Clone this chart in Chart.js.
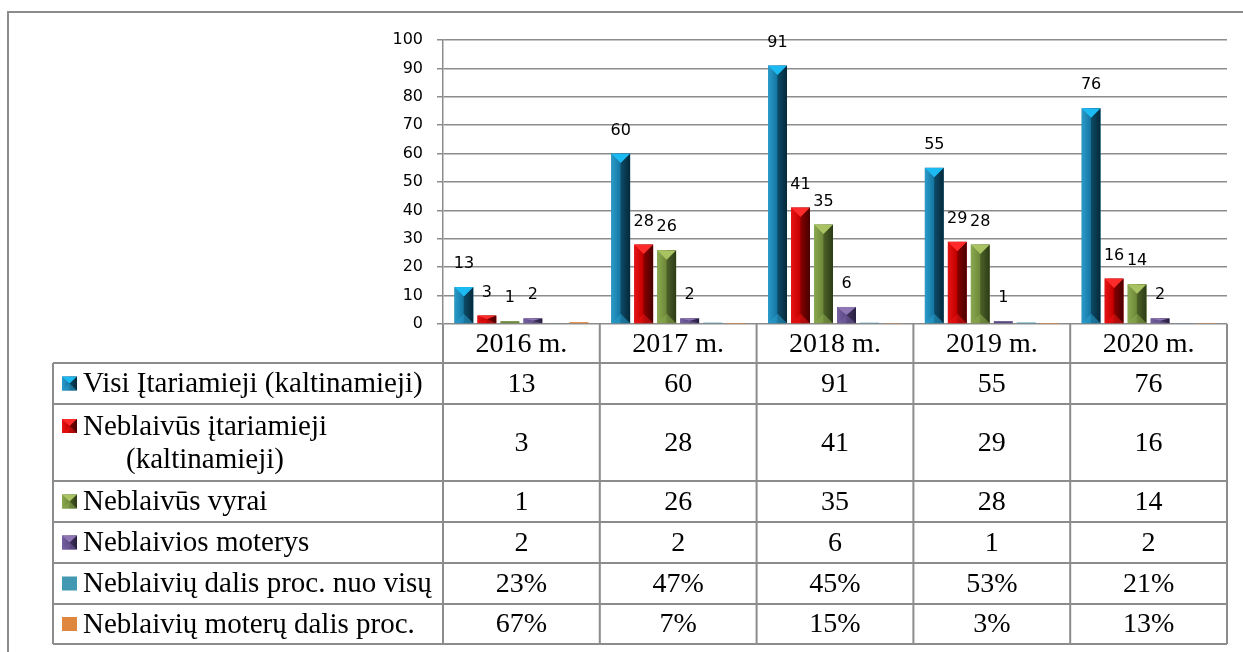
<!DOCTYPE html>
<html>
<head>
<meta charset="utf-8">
<title>Neblaivūs įtariamieji 2016–2020</title>
<script src="https://cdn.jsdelivr.net/npm/chart.js@4/dist/chart.umd.min.js"></script>
<style>
	html, body { margin: 0; padding: 0; background: #fff; }
	#wrap { width: 1243px; height: 652px; }
</style>
</head>
<body>
<div id="wrap"><canvas id="chart" width="1243" height="652"></canvas></div>
<script>
// Data
const years = ['2016 m.', '2017 m.', '2018 m.', '2019 m.', '2020 m.'];
const visiItariamieji = [13, 60, 91, 55, 76];
const neblaivusItariamieji = [3, 28, 41, 29, 16];
const neblaivusVyrai = [1, 26, 35, 28, 14];
const neblaiviosMoterys = [2, 2, 6, 1, 2];
const neblaiviuDalis = [0.23, 0.47, 0.45, 0.53, 0.21];
const moteruDalis = [0.67, 0.07, 0.15, 0.03, 0.13];

// series names as they are wrapped in the data table
const seriesNames = [
	['Visi Įtariamieji (kaltinamieji)'],
	['Neblaivūs įtariamieji', '(kaltinamieji)'],
	['Neblaivūs vyrai'],
	['Neblaivios moterys'],
	['Neblaivių dalis proc. nuo visų'],
	['Neblaivių moterų dalis proc.'],
];
const isPercent = [false, false, false, false, true, true];

// bevel palettes: top face, light side, base, dark side, darkest edge
const palettes = [
	{ top: '#1cbaf2', light: '#2a9ccc', base: '#1677a3', dark: '#0c4a66', darkest: '#062838' },
	{ top: '#ff2b2b', light: '#e81414', base: '#c40000', dark: '#860000', darkest: '#460000' },
	{ top: '#a9c262', light: '#8aa94f', base: '#6e893a', dark: '#4b6027', darkest: '#2c3a16' },
	{ top: '#8e77b4', light: '#7661a2', base: '#5c4985', dark: '#40335e', darkest: '#272040' },
	{ top: '#6cc8dd', light: '#4bacc6', base: '#4399b1', dark: '#2d7285', darkest: '#1c4c58', flat: true },
	{ top: '#fbb070', light: '#f79646', base: '#e0873f', dark: '#b0652a', darkest: '#7a451c', flat: true },
];

const gridColor = '#8c8c8c';
const tableFont = '28px "Liberation Serif", "Times New Roman", serif';
const nameFont = '29px "Liberation Serif", "Times New Roman", serif';
const headerRowBottom = 363;
const rowHeights = [41, 77, 41, 41, 41, 40];
const tableLeft = 53;

function drawBevel(ctx, x0, y0, w, h, p) {
	if (h < 3 || p.flat) return;
	const x1 = x0 + w;
	const y1 = y0 + h;
	const xc = x0 + w / 2;
	const d = Math.min(w / 2, h / 2);
	ctx.save();
	ctx.beginPath();
	ctx.rect(x0, y0, w, h);
	ctx.clip();
	const g = ctx.createLinearGradient(x0, 0, x1, 0);
	g.addColorStop(0, p.light);
	g.addColorStop(0.46, p.base);
	g.addColorStop(0.52, p.dark);
	g.addColorStop(1, p.darkest);
	ctx.fillStyle = g;
	ctx.fillRect(x0, y0, w, h);
	// top face
	ctx.fillStyle = p.top;
	ctx.beginPath();
	ctx.moveTo(x0, y0);
	ctx.lineTo(x1, y0);
	ctx.lineTo(xc, y0 + d);
	ctx.closePath();
	ctx.fill();
	// bottom face
	ctx.globalAlpha = 0.55;
	ctx.fillStyle = p.light;
	ctx.beginPath();
	ctx.moveTo(x0, y1);
	ctx.lineTo(x1, y1);
	ctx.lineTo(xc, y1 - d);
	ctx.closePath();
	ctx.fill();
	ctx.restore();
}

const bevelPlugin = {
	id: 'bevel',
	afterDatasetsDraw(chart) {
		const ctx = chart.ctx;
		chart.data.datasets.forEach((ds, i) => {
			const meta = chart.getDatasetMeta(i);
			meta.data.forEach((bar) => {
				const w = bar.width;
				const top = Math.min(bar.y, bar.base);
				const h = Math.abs(bar.base - bar.y);
				drawBevel(ctx, bar.x - w / 2, top, w, h, palettes[i]);
			});
		});
	},
};

const valueLabels = {
	id: 'valueLabels',
	afterDatasetsDraw(chart) {
		const ctx = chart.ctx;
		ctx.save();
		ctx.font = '16px "DejaVu Sans", sans-serif';
		ctx.fillStyle = '#000';
		ctx.textAlign = 'center';
		ctx.textBaseline = 'middle';
		chart.data.datasets.forEach((ds, i) => {
			if (isPercent[i]) return;
			const meta = chart.getDatasetMeta(i);
			meta.data.forEach((bar, j) => {
				ctx.fillText(String(ds.data[j]), bar.x, bar.y - 23);
			});
		});
		ctx.restore();
	},
};

const dataTable = {
	id: 'dataTable',
	beforeDraw(chart) {
		// outer frame of the figure
		const ctx = chart.ctx;
		ctx.save();
		ctx.strokeStyle = gridColor;
		ctx.lineWidth = 2;
		ctx.beginPath();
		ctx.moveTo(8, chart.height);
		ctx.lineTo(8, 12);
		ctx.lineTo(chart.width, 12);
		ctx.stroke();
		ctx.restore();
	},
	afterDraw(chart) {
		const ctx = chart.ctx;
		const area = chart.chartArea;
		const x = chart.scales.x;
		const colW = (area.right - area.left) / years.length;
		const edges = years.map((_, i) => x.getPixelForValue(i) - colW / 2);
		edges.push(area.right);

		const rowEdges = [headerRowBottom];
		rowHeights.forEach((h) => rowEdges.push(rowEdges[rowEdges.length - 1] + h));
		const bottom = rowEdges[rowEdges.length - 1];

		ctx.save();
		ctx.strokeStyle = gridColor;
		ctx.lineWidth = 2;
		ctx.beginPath();
		rowEdges.forEach((y) => {
			ctx.moveTo(tableLeft, y);
			ctx.lineTo(area.right, y);
		});
		ctx.moveTo(tableLeft, headerRowBottom);
		ctx.lineTo(tableLeft, bottom);
		edges.forEach((ex) => {
			ctx.moveTo(ex, area.bottom);
			ctx.lineTo(ex, bottom);
		});
		ctx.stroke();

		ctx.font = tableFont;
		ctx.fillStyle = '#000';
		ctx.textBaseline = 'middle';
		ctx.textAlign = 'center';

		// header row with the categories
		years.forEach((label, i) => {
			ctx.fillText(label, x.getPixelForValue(i), (area.bottom + headerRowBottom) / 2 + 1);
		});

		const rows = [visiItariamieji, neblaivusItariamieji, neblaivusVyrai, neblaiviosMoterys, neblaiviuDalis, moteruDalis];
		rows.forEach((values, r) => {
			const yMid = (rowEdges[r] + rowEdges[r + 1]) / 2;
			ctx.font = tableFont;
			ctx.textAlign = 'center';
			values.forEach((v, i) => {
				const txt = isPercent[r] ? Math.round(v * 100) + '%' : String(v);
				ctx.fillText(txt, x.getPixelForValue(i), yMid + 1);
			});

			// legend key + series name
			const lines = seriesNames[r];
			const lineH = 33;
			const firstY = yMid - ((lines.length - 1) * lineH) / 2;
			ctx.font = nameFont;
			const blockW = Math.max(...lines.map((l) => ctx.measureText(l).width));
			const textX = 83;
			ctx.textAlign = 'left';
			lines.forEach((l, k) => {
				const lw = ctx.measureText(l).width;
				ctx.fillText(l, textX + (blockW - lw) / 2, firstY + k * lineH + 1);
			});

			const p = palettes[r];
			ctx.fillStyle = p.base;
			ctx.fillRect(62, firstY - 7, 15, 14);
			drawBevel(ctx, 62, firstY - 7, 15, 14, p);
			ctx.fillStyle = '#000';
		});
		ctx.restore();
	},
};

const datasets = [visiItariamieji, neblaivusItariamieji, neblaivusVyrai, neblaiviosMoterys, neblaiviuDalis, moteruDalis].map((values, i) => ({
	label: seriesNames[i].join(' '),
	data: values,
	backgroundColor: palettes[i].base,
	borderWidth: 0,
	categoryPercentage: 0.88,
	barPercentage: 0.826,
}));

new Chart(document.getElementById('chart'), {
	type: 'bar',
	data: { labels: years, datasets },
	plugins: [dataTable, bevelPlugin, valueLabels],
	options: {
		responsive: false,
		devicePixelRatio: 1,
		animation: false,
		layout: { padding: { left: 0, top: 40, right: 16, bottom: 328 } },
		plugins: {
			legend: { display: false },
			tooltip: { enabled: false },
		},
		scales: {
			x: { display: false },
			y: {
				min: 0,
				max: 100,
				afterFit(scale) {
					scale.width = 443;
				},
				ticks: {
					stepSize: 10,
					padding: 14,
					color: '#000',
					font: { family: '"DejaVu Sans", sans-serif', size: 16 },
				},
				grid: {
					color: gridColor,
					lineWidth: 1.5,
					tickLength: 6,
				},
				border: { display: true, color: gridColor, width: 1.5 },
			},
		},
	},
});
</script>
</body>
</html>
